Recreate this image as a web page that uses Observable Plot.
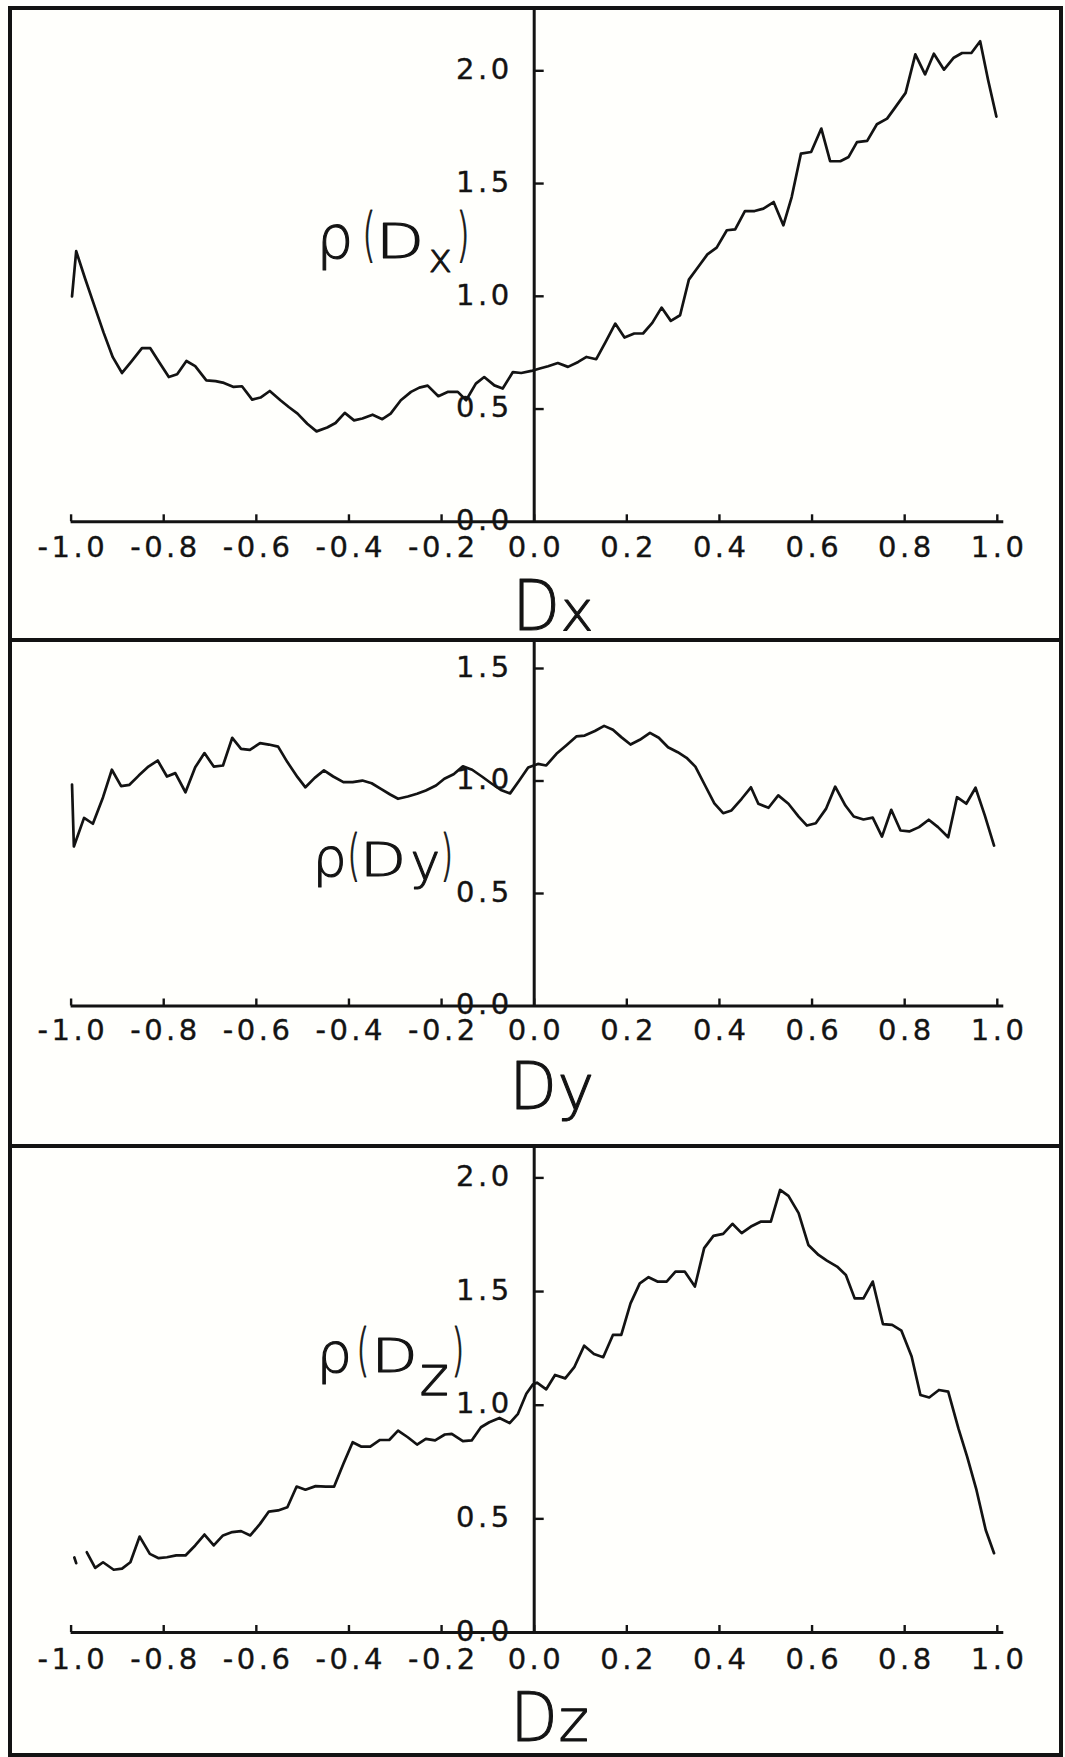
<!DOCTYPE html>
<html>
<head>
<meta charset="utf-8">
<script src="https://cdn.jsdelivr.net/npm/d3@7"></script>
<script src="https://cdn.jsdelivr.net/npm/@observablehq/plot@0.6"></script>
<style>
  html, body { margin: 0; padding: 0; background: #fffffc; }
  #page { position: relative; width: 1065px; height: 1757px; overflow: hidden; background: #fffffc; }
  .panel { position: absolute; left: 0; width: 1065px; }
  .box { position: absolute; box-sizing: border-box; border: 4px solid #131313; pointer-events: none; }
</style>
</head>
<body>
<div id="page"></div>
<script>
// ---------------------------------------------------------------
// Distributions rho(D) of the three direction cosines Dx, Dy, Dz
// ---------------------------------------------------------------
const xTicks = [-1.0, -0.8, -0.6, -0.4, -0.2, 0.0, 0.2, 0.4, 0.6, 0.8, 1.0];
const yTicksX = [0.0, 0.5, 1.0, 1.5, 2.0];
const yTicksY = [0.0, 0.5, 1.0, 1.5];
const yTicksZ = [0.0, 0.5, 1.0, 1.5, 2.0];

// rho(Dx)
const dxD = [-0.998, -0.989, -0.970, -0.950, -0.930, -0.910, -0.890, -0.870, -0.847, -0.829,
  -0.809, -0.789, -0.771, -0.751, -0.732, -0.708, -0.688, -0.670, -0.649, -0.631,
  -0.609, -0.591, -0.571, -0.548, -0.530, -0.511, -0.490, -0.470, -0.447, -0.429,
  -0.409, -0.389, -0.371, -0.349, -0.328, -0.310, -0.288, -0.266, -0.248, -0.230,
  -0.207, -0.187, -0.165, -0.147, -0.126, -0.108, -0.086, -0.068, -0.046, -0.028,
  -0.006, 0.012, 0.030, 0.051, 0.073, 0.095, 0.113, 0.134, 0.154, 0.175,
  0.195, 0.216, 0.235, 0.255, 0.275, 0.295, 0.315, 0.334, 0.354, 0.374,
  0.394, 0.416, 0.434, 0.455, 0.476, 0.495, 0.517, 0.538, 0.556, 0.576,
  0.598, 0.620, 0.639, 0.661, 0.679, 0.697, 0.719, 0.740, 0.762, 0.780,
  0.802, 0.823, 0.844, 0.863, 0.885, 0.906, 0.924, 0.944, 0.963, 0.980, 0.998];
const dxRho = [1.00, 1.20, 1.08, 0.96, 0.84, 0.73, 0.66, 0.71, 0.77, 0.77,
  0.705, 0.642, 0.654, 0.713, 0.690, 0.627, 0.624, 0.616, 0.598, 0.601,
  0.542, 0.551, 0.580, 0.539, 0.509, 0.480, 0.435, 0.401, 0.418, 0.438,
  0.483, 0.450, 0.458, 0.475, 0.455, 0.480, 0.539, 0.576, 0.595, 0.604,
  0.557, 0.576, 0.576, 0.539, 0.613, 0.642, 0.605, 0.591, 0.664, 0.660,
  0.669, 0.680, 0.690, 0.704, 0.687, 0.709, 0.731, 0.721, 0.797, 0.879,
  0.817, 0.835, 0.835, 0.882, 0.950, 0.891, 0.916, 1.074, 1.130, 1.186,
  1.216, 1.293, 1.297, 1.378, 1.378, 1.389, 1.418, 1.315, 1.440, 1.633,
  1.640, 1.744, 1.599, 1.599, 1.618, 1.684, 1.689, 1.763, 1.788, 1.839,
  1.902, 2.073, 1.984, 2.076, 2.005, 2.058, 2.079, 2.079, 2.131, 1.960, 1.797];

// rho(Dy)
const dyD = [-0.998, -0.994, -0.972, -0.953, -0.931, -0.912, -0.892, -0.874, -0.854, -0.833,
  -0.813, -0.793, -0.775, -0.753, -0.732, -0.712, -0.692, -0.672, -0.652, -0.633,
  -0.614, -0.592, -0.573, -0.553, -0.533, -0.511, -0.494, -0.474, -0.454, -0.434,
  -0.412, -0.392, -0.371, -0.351, -0.331, -0.311, -0.294, -0.273, -0.253, -0.234,
  -0.212, -0.194, -0.174, -0.154, -0.134, -0.113, -0.093, -0.072, -0.052, -0.033,
  -0.013, 0.008, 0.026, 0.048, 0.069, 0.091, 0.109, 0.131, 0.151, 0.170,
  0.188, 0.208, 0.228, 0.250, 0.269, 0.289, 0.310, 0.329, 0.348, 0.369,
  0.389, 0.408, 0.426, 0.448, 0.468, 0.484, 0.506, 0.527, 0.549, 0.571,
  0.589, 0.608, 0.630, 0.650, 0.672, 0.690, 0.711, 0.731, 0.751, 0.771,
  0.791, 0.810, 0.831, 0.852, 0.872, 0.894, 0.913, 0.933, 0.953, 0.973, 0.993];
const dyRho = [0.984, 0.709, 0.836, 0.810, 0.928, 1.050, 0.977, 0.983, 1.024, 1.064,
  1.091, 1.020, 1.035, 0.950, 1.061, 1.124, 1.064, 1.069, 1.192, 1.143,
  1.138, 1.168, 1.162, 1.153, 1.084, 1.017, 0.972, 1.014, 1.047, 1.020,
  0.995, 0.995, 1.002, 0.990, 0.965, 0.940, 0.921, 0.931, 0.943, 0.958,
  0.980, 1.010, 1.030, 1.065, 1.050, 1.020, 0.990, 0.960, 0.945, 1.000,
  1.060, 1.076, 1.069, 1.121, 1.158, 1.198, 1.202, 1.222, 1.245, 1.228,
  1.195, 1.162, 1.183, 1.214, 1.192, 1.150, 1.128, 1.103, 1.064, 0.980,
  0.901, 0.857, 0.869, 0.921, 0.972, 0.899, 0.881, 0.936, 0.899, 0.842,
  0.802, 0.812, 0.876, 0.975, 0.891, 0.842, 0.829, 0.837, 0.753, 0.872,
  0.780, 0.776, 0.795, 0.828, 0.795, 0.750, 0.928, 0.899, 0.970, 0.847, 0.713];

// rho(Dz) (null = pen lifted)
const dzD = [-0.993, -0.989, -0.980, -0.966, -0.948, -0.931, -0.908, -0.890, -0.872, -0.852,
  -0.830, -0.811, -0.793, -0.773, -0.753, -0.732, -0.712, -0.692, -0.672, -0.652,
  -0.633, -0.613, -0.592, -0.573, -0.553, -0.533, -0.513, -0.494, -0.472, -0.450,
  -0.432, -0.412, -0.392, -0.374, -0.354, -0.333, -0.313, -0.294, -0.273, -0.253,
  -0.234, -0.214, -0.193, -0.178, -0.154, -0.135, -0.115, -0.097, -0.075, -0.053,
  -0.035, -0.017, -0.003, 0.006, 0.026, 0.045, 0.067, 0.087, 0.108, 0.129,
  0.149, 0.170, 0.188, 0.208, 0.228, 0.247, 0.266, 0.286, 0.305, 0.325,
  0.347, 0.367, 0.387, 0.408, 0.428, 0.448, 0.468, 0.490, 0.511, 0.531,
  0.549, 0.571, 0.592, 0.614, 0.632, 0.654, 0.673, 0.692, 0.711, 0.731,
  0.753, 0.773, 0.793, 0.815, 0.834, 0.853, 0.874, 0.894, 0.916, 0.935,
  0.955, 0.975, 0.993];
const dzRho = [0.330, 0.305, null, 0.353, 0.284, 0.309, 0.276, 0.281, 0.309, 0.422,
  0.346, 0.327, 0.331, 0.339, 0.339, 0.383, 0.431, 0.383, 0.427, 0.442,
  0.446, 0.427, 0.478, 0.532, 0.537, 0.551, 0.642, 0.628, 0.644, 0.642,
  0.642, 0.742, 0.837, 0.818, 0.818, 0.847, 0.847, 0.888, 0.859, 0.827,
  0.852, 0.845, 0.871, 0.874, 0.842, 0.845, 0.903, 0.925, 0.944, 0.921,
  0.962, 1.050, 1.091, 1.099, 1.070, 1.133, 1.118, 1.169, 1.262, 1.225,
  1.211, 1.309, 1.309, 1.448, 1.536, 1.563, 1.544, 1.544, 1.588, 1.588,
  1.522, 1.691, 1.745, 1.754, 1.798, 1.757, 1.786, 1.808, 1.808, 1.947,
  1.921, 1.845, 1.705, 1.661, 1.636, 1.610, 1.573, 1.470, 1.470, 1.544,
  1.357, 1.353, 1.328, 1.214, 1.045, 1.034, 1.067, 1.060, 0.898, 0.773,
  0.627, 0.451, 0.349];

// ---------------------------------------------------------------
// Layout and styling
// ---------------------------------------------------------------
const INK = "#131313";
const W = 1065;
const LEFT = 70.6;    // pixel position of D = -1
const RIGHT = 996.8;  // pixel position of D = +1
const X0 = (LEFT + RIGHT) / 2;
const TICK_FONT = {fontFamily: "DejaVu Sans", fontSize: 29, fill: INK, stroke: INK, strokeWidth: 0.35};
const TITLE_FONT = {fontFamily: "DejaVu Sans", fontWeight: 200, fill: INK, stroke: INK, strokeWidth: 1.1};
const PAREN_SX = 0.575;   // thin plotter-style parentheses

function drawPanel(cfg) {
  const {top, height, zeroY, unit, padTop, D, rho, yTicks, labelDy, title, axisTitle} = cfg;
  const yMax = (zeroY - padTop) / unit;
  const frameH = zeroY - padTop;
  const rows = D.map((d, i) => ({D: d, rho: rho[i]}));
  const marks = [];
  const textStyle = [];   // per text mark: horizontal stretch and letter spacing
  const text = (data, opts, sx = 1, spacing = "0px") => {
    marks.push(Plot.text(data, opts));
    textStyle.push({sx, spacing});
  };

  // axes: horizontal baseline and the vertical axis through D = 0
  marks.push(Plot.ruleY([0], {x1: -1, x2: 1.014, stroke: INK, strokeWidth: 3}));
  marks.push(Plot.ruleX([0], {y1: 0, y2: yMax, stroke: INK, strokeWidth: 3}));
  marks.push(Plot.tickX(xTicks, {x: d => d, insetTop: frameH - 7, stroke: INK, strokeWidth: 2.4}));
  marks.push(Plot.tickY(yTicks.filter(v => v > 0), {
    y: v => v, insetLeft: X0 - LEFT, insetRight: RIGHT - X0 - 10, stroke: INK, strokeWidth: 2.4
  }));

  // the distribution itself
  marks.push(Plot.line(rows, {x: "D", y: "rho", stroke: INK, strokeWidth: 2.7}));

  // tick labels (wide plotter spacing)
  text(xTicks, {x: d => d, y: 0, text: d => d.toFixed(1), dy: labelDy, dx: 1.75, ...TICK_FONT}, 1, "3.5px");
  text(yTicks, {x: 0, y: v => v, text: v => v.toFixed(1), textAnchor: "end", dx: -21.5, dy: -1, ...TICK_FONT}, 1, "3.5px");

  // rho(D_k) label next to the vertical axis, one glyph group per text
  for (const p of title.pieces) {
    text([0], {
      x: title.at[0], y: title.at[1], text: () => p.t, textAnchor: "start",
      dx: p.dx, dy: p.base - 0.32 * p.fs, fontSize: p.fs, ...TITLE_FONT
    }, p.sx || 1);
  }
  // D_k axis title under the horizontal axis
  for (const p of axisTitle) {
    text([0], {
      x: 0, y: 0, text: () => p.t, textAnchor: "start",
      dx: p.dx, dy: p.base - 0.32 * p.fs, fontSize: p.fs, ...TITLE_FONT
    }, p.sx || 1);
  }

  const svg = Plot.plot({
    width: W,
    height,
    marginLeft: LEFT,
    marginRight: W - RIGHT,
    marginTop: padTop,
    marginBottom: height - zeroY,
    x: {domain: [-1, 1], axis: null},
    y: {domain: [0, yMax], axis: null},
    style: "background: transparent; overflow: visible;",
    marks
  });

  svg.querySelectorAll('g[aria-label="text"]').forEach((g, i) => {
    const {sx, spacing} = textStyle[i];
    g.style.letterSpacing = spacing;
    if (sx !== 1) g.querySelectorAll("text").forEach(t => {
      t.setAttribute("transform", `${t.getAttribute("transform") || ""} scale(${sx},1)`);
    });
  });

  const holder = document.createElement("div");
  holder.className = "panel";
  holder.style.top = top + "px";
  holder.style.height = height + "px";
  holder.appendChild(svg);
  document.getElementById("page").appendChild(holder);
}

drawPanel({
  top: 0, height: 640, zeroY: 521.3, unit: 225.5, padTop: 8,
  D: dxD, rho: dxRho, yTicks: yTicksX, labelDy: 26,
  title: {at: [-0.470, 1.172], pieces: [
    {t: "ρ", dx: 0, base: 0, fs: 58},
    {t: "(", dx: 46, base: -3, fs: 58, sx: PAREN_SX},
    {t: "D", dx: 59.5, base: 0, fs: 48, sx: 1.3},
    {t: "x", dx: 112, base: 14.3, fs: 40},
    {t: ")", dx: 140, base: -3, fs: 58, sx: PAREN_SX}
  ]},
  axisTitle: [
    {t: "D", dx: -21.7, base: 107.7, fs: 70, sx: 0.88},
    {t: "x", dx: 26.3, base: 107.7, fs: 56}
  ]
});

drawPanel({
  top: 640, height: 506, zeroY: 365.5, unit: 225, padTop: 2,
  D: dyD, rho: dyRho, yTicks: yTicksY, labelDy: 25,
  title: {at: [-0.4788, 0.5756], pieces: [
    {t: "ρ", dx: 0, base: 0, fs: 54},
    {t: "(", dx: 35, base: -3, fs: 56, sx: PAREN_SX},
    {t: "D", dx: 47.5, base: 0, fs: 46, sx: 1.3},
    {t: "y", dx: 98, base: 3, fs: 50},
    {t: ")", dx: 128, base: -3, fs: 56, sx: PAREN_SX}
  ]},
  axisTitle: [
    {t: "D", dx: -24.7, base: 102.5, fs: 66, sx: 0.93},
    {t: "y", dx: 23.3, base: 102.5, fs: 62}
  ]
});

drawPanel({
  top: 1146, height: 611, zeroY: 486, unit: 227.3, padTop: 2,
  D: dzD, rho: dzRho, yTicks: yTicksZ, labelDy: 27,
  title: {at: [-0.470, 1.1439], pieces: [
    {t: "ρ", dx: 0, base: 0, fs: 56},
    {t: "(", dx: 40, base: -3.4, fs: 57, sx: PAREN_SX},
    {t: "D", dx: 55, base: 0, fs: 46, sx: 1.3},
    {t: "z", dx: 103, base: 23, fs: 56},
    {t: ")", dx: 135, base: -3.4, fs: 57, sx: PAREN_SX}
  ]},
  axisTitle: [
    {t: "D", dx: -23.7, base: 108, fs: 68, sx: 0.9},
    {t: "z", dx: 24.3, base: 108, fs: 58}
  ]
});

// panel frames
const page = document.getElementById("page");
for (const b of [
  {top: 6, height: 636, noTop: false},
  {top: 642, height: 506, noTop: true},
  {top: 1148, height: 609, noTop: true}
]) {
  const d = document.createElement("div");
  d.className = "box";
  d.style.left = "8px";
  d.style.width = "1055px";
  d.style.top = b.top + "px";
  d.style.height = b.height + "px";
  if (b.noTop) d.style.borderTop = "none";
  page.appendChild(d);
}
</script>
</body>
</html>
